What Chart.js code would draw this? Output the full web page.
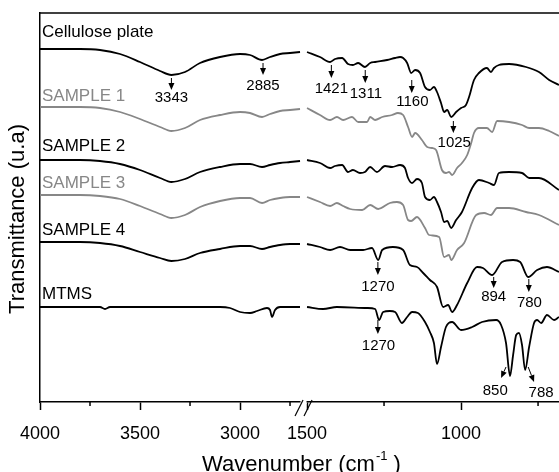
<!DOCTYPE html>
<html>
<head>
<meta charset="utf-8">
<script src="https://cdn.jsdelivr.net/npm/chart.js@4.4.1/dist/chart.umd.min.js"></script>
<style>
  html, body { margin: 0; padding: 0; background: #fff; }
  #wrap { width: 559px; height: 472px; }
</style>
</head>
<body>
<div id="wrap"><canvas id="ftir" width="559" height="472"></canvas></div>
<script>
// high wavenumber range (cm-1), shared by cellulose and samples
const wnHigh = [4000, 3900, 3800, 3700, 3600, 3500, 3400, 3343, 3275, 3200, 3100, 3000, 2950, 2890, 2850, 2800, 2750, 2700];
const celluloseHigh = [353, 353, 353, 352, 348, 340, 331, 327, 330, 339, 345, 348, 347, 342, 345, 348, 349, 350];
const sample1High = [295, 295, 295, 294, 290, 283, 275, 271, 274, 282, 287, 290, 289, 285, 288, 291, 292, 293];
const sample2High = [242, 242, 242, 241, 238, 232, 224, 220, 223, 230, 235, 238, 238, 235, 237, 239, 240, 241];
const sample3High = [207, 207, 207, 206, 203, 196, 188, 184, 187, 195, 201, 204, 204, 199, 202, 204, 205, 205];
const sample4High = [160, 160, 160, 159, 156, 150, 144, 141, 143, 149, 153, 156, 156, 153, 155, 157, 158, 158];
const mtmsWnHigh = [4000, 3700, 3675, 3650, 3100, 3050, 3000, 2950, 2915, 2865, 2850, 2840, 2825, 2800, 2700];
const mtmsHigh = [95, 95, 93, 95, 95, 94, 90, 89, 91, 94, 92, 85, 92, 95, 95];

// fingerprint range (cm-1)
const celluloseWnLow = [1500, 1458, 1425, 1409, 1386, 1367, 1351, 1334, 1312, 1295, 1279, 1240, 1214, 1198, 1188, 1175, 1162, 1149, 1133, 1117, 1101, 1088, 1078, 1065, 1055, 1045, 1032, 1016, 1000, 984, 974, 958, 942, 916, 903, 893, 877, 844, 789, 747, 714, 682];
const celluloseLow = [350, 345, 340, 343, 344, 338, 337, 339, 335, 339, 340, 342, 344, 345, 344, 339, 329, 332, 329, 315, 312, 315, 310, 299, 290, 292, 285, 290, 294, 297, 305, 322, 329, 334, 330, 334, 337, 338, 335, 330, 322, 317];
const sample1WnLow = [1500, 1458, 1425, 1403, 1383, 1354, 1334, 1305, 1295, 1279, 1256, 1224, 1205, 1188, 1172, 1159, 1149, 1127, 1110, 1094, 1081, 1062, 1049, 1039, 1029, 1013, 997, 980, 967, 958, 942, 916, 899, 883, 844, 802, 779, 747, 714, 682];
const sample1Low = [294, 287, 282, 285, 282, 285, 280, 280, 285, 282, 285, 287, 289, 287, 275, 265, 269, 262, 255, 254, 252, 232, 229, 230, 227, 234, 239, 247, 259, 269, 274, 274, 270, 281, 280, 277, 274, 274, 271, 266];
const sample2WnLow = [1500, 1458, 1425, 1409, 1386, 1367, 1351, 1328, 1312, 1295, 1273, 1247, 1224, 1198, 1182, 1172, 1159, 1143, 1127, 1117, 1101, 1088, 1078, 1065, 1055, 1045, 1032, 1016, 997, 964, 942, 909, 893, 877, 844, 802, 779, 747, 682];
const sample2Low = [242, 239, 234, 236, 237, 230, 232, 229, 230, 235, 230, 236, 235, 237, 234, 224, 219, 223, 219, 205, 202, 205, 200, 190, 180, 181, 174, 182, 190, 214, 222, 219, 217, 229, 230, 229, 224, 224, 212];
const sample3WnLow = [1500, 1458, 1425, 1403, 1383, 1360, 1321, 1295, 1269, 1231, 1208, 1188, 1172, 1162, 1143, 1117, 1104, 1071, 1055, 1039, 1032, 1013, 990, 951, 925, 903, 883, 844, 789, 747, 682];
const sample3Low = [205, 200, 196, 199, 196, 193, 192, 197, 193, 199, 200, 197, 182, 181, 185, 174, 167, 165, 145, 147, 142, 152, 159, 187, 189, 187, 194, 194, 190, 187, 177];
const sample4WnLow = [1500, 1458, 1425, 1393, 1360, 1318, 1289, 1269, 1256, 1221, 1188, 1166, 1143, 1123, 1101, 1078, 1058, 1042, 1029, 1013, 980, 948, 929, 899, 867, 831, 808, 782, 753, 721, 682];
const sample4Low = [158, 155, 152, 155, 152, 152, 154, 142, 152, 155, 152, 137, 135, 129, 122, 115, 95, 97, 90, 97, 119, 135, 134, 127, 140, 142, 140, 125, 132, 135, 130];
const mtmsWnLow = [1500, 1448, 1403, 1305, 1279, 1266, 1253, 1231, 1214, 1192, 1175, 1159, 1140, 1117, 1101, 1088, 1078, 1065, 1049, 1029, 1000, 964, 932, 886, 870, 854, 841, 831, 821, 812, 802, 792, 779, 763, 753, 740, 721, 698, 682];
const mtmsLow = [95, 93, 95, 94, 93, 82, 90, 91, 90, 79, 85, 90, 89, 80, 70, 59, 38, 55, 75, 80, 72, 75, 80, 82, 77, 59, 26, 47, 67, 69, 57, 32, 55, 79, 82, 79, 87, 82, 85];

const seriesNames = ['Cellulose plate', 'SAMPLE 1', 'SAMPLE 2', 'SAMPLE 3', 'SAMPLE 4', 'MTMS'];
const seriesColors = ['#000000', '#878787', '#000000', '#878787', '#000000', '#000000'];
const nameLevel = [370, 306, 256, 219, 172, 108];

const majorTicks = [4000, 3500, 3000, 1500, 1000];
const minorTicks = [3750, 3250, 2750, 1250, 750];

// peak marks: label, arrow start/end (wavenumber, level), label spot
const peakText  = ['3343', '2885', '1421', '1311', '1160', '1025', '1270', '894', '780', '1270', '850', '788'];
const peakWn    = [3343, 2885, 1421, 1311, 1160, 1025, 1270, 894, 780, 1270, 854, 782];
const peakTipWn = [3343, 2885, 1421, 1311, 1160, 1025, 1270, 894, 780, 1270, 870, 763];
const arrowFrom = [324, 339, 337, 332, 322, 281, 140, 125, 123, 82, 35, 35];
const arrowTo   = [312, 327, 324, 319, 309, 269, 127, 114, 110, 68, 24, 20];
const textWn    = [3343, 2885, 1421, 1309, 1158, 1022, 1270, 894, 778, 1268, 889, 740];
const textLevel = [304, 316, 313, 308, 300, 259, 115, 105, 99, 56, 11, 9];

const FONT = '"Liberation Sans", Arial, sans-serif';

// broken axis: 4000-2700 and 1500-682 laid side by side
function axisPos(w) {
  return w > 2000 ? (4000 - w) * 0.2 : 267 + (1500 - w) * 0.308;
}

function spectrum(hiWn, hiVal, loWn, loVal) {
  const pts = hiWn.map((w, i) => ({ x: axisPos(w), y: hiVal[i] }));
  pts.push({ x: 263, y: null });
  loWn.forEach((w, i) => pts.push({ x: axisPos(w), y: loVal[i] }));
  return pts;
}

const spectra = [
  spectrum(wnHigh, celluloseHigh, celluloseWnLow, celluloseLow),
  spectrum(wnHigh, sample1High, sample1WnLow, sample1Low),
  spectrum(wnHigh, sample2High, sample2WnLow, sample2Low),
  spectrum(wnHigh, sample3High, sample3WnLow, sample3Low),
  spectrum(wnHigh, sample4High, sample4WnLow, sample4Low),
  spectrum(mtmsWnHigh, mtmsHigh, mtmsWnLow, mtmsLow)
];

const datasets = spectra.map((pts, i) => ({
  label: seriesNames[i],
  data: pts,
  borderColor: seriesColors[i],
  borderWidth: 1.8,
  pointRadius: 0,
  spanGaps: false,
  cubicInterpolationMode: 'monotone'
}));

function arrow(ctx, x1, y1, x2, y2) {
  const ang = Math.atan2(y2 - y1, x2 - x1);
  const head = 7, half = 3;
  const bx = x2 - head * Math.cos(ang), by = y2 - head * Math.sin(ang);
  ctx.beginPath();
  ctx.moveTo(x1, y1);
  ctx.lineTo(bx, by);
  ctx.stroke();
  ctx.beginPath();
  ctx.moveTo(x2, y2);
  ctx.lineTo(bx + half * Math.sin(ang), by - half * Math.cos(ang));
  ctx.lineTo(bx - half * Math.sin(ang), by + half * Math.cos(ang));
  ctx.closePath();
  ctx.fill();
}

const decor = {
  id: 'decor',
  afterDraw(chart) {
    const { ctx, chartArea: a, scales: { x, y } } = chart;
    const px = w => x.getPixelForValue(axisPos(w));
    const py = v => y.getPixelForValue(v);
    ctx.save();

    // top frame
    ctx.strokeStyle = '#000';
    ctx.fillStyle = '#000';
    ctx.lineWidth = 1.5;
    ctx.beginPath();
    ctx.moveTo(a.left, a.top);
    ctx.lineTo(a.right, a.top);
    ctx.stroke();

    // minor ticks
    minorTicks.forEach(w => {
      const X = px(w);
      ctx.beginPath();
      ctx.moveTo(X, a.bottom);
      ctx.lineTo(X, a.bottom + 4);
      ctx.stroke();
    });

    // axis break
    const bx = (px(2700) + px(1500)) / 2;
    ctx.fillStyle = '#fff';
    ctx.fillRect(bx - 3, a.bottom - 2, 6, 4);
    ctx.lineWidth = 1.2;
    [-4.5, 4.5].forEach(d => {
      ctx.beginPath();
      ctx.moveTo(bx + d - 4, a.bottom + 14);
      ctx.lineTo(bx + d + 4, a.bottom - 2);
      ctx.stroke();
    });

    // peak arrows and numbers
    ctx.fillStyle = '#000';
    ctx.lineWidth = 1;
    ctx.font = '15px ' + FONT;
    ctx.textAlign = 'center';
    ctx.textBaseline = 'middle';
    peakText.forEach((t, i) => {
      arrow(ctx, px(peakWn[i]), py(arrowFrom[i]), px(peakTipWn[i]), py(arrowTo[i]));
      ctx.fillText(t, px(textWn[i]), py(textLevel[i]));
    });

    // series names
    ctx.font = '17px ' + FONT;
    ctx.textAlign = 'left';
    seriesNames.forEach((n, i) => {
      ctx.fillStyle = seriesColors[i];
      ctx.fillText(n, a.left + 2, py(nameLevel[i]));
    });

    // x title with superscript
    ctx.fillStyle = '#000';
    const main = 'Wavenumber (cm', sup = '-1', tail = ' )';
    ctx.font = '22px ' + FONT;
    const wMain = ctx.measureText(main).width;
    const wTail = ctx.measureText(tail).width;
    ctx.font = '13px ' + FONT;
    const wSup = ctx.measureText(sup).width;
    let tx = 301 - (wMain + wSup + wTail) / 2;
    const ty = 465;
    ctx.font = '22px ' + FONT;
    ctx.fillText(main, tx, ty);
    tx += wMain;
    ctx.font = '13px ' + FONT;
    ctx.fillText(sup, tx + 1, ty - 9);
    tx += wSup + 1;
    ctx.font = '22px ' + FONT;
    ctx.fillText(tail, tx, ty);

    // y title
    ctx.translate(18, 219);
    ctx.rotate(-Math.PI / 2);
    ctx.textAlign = 'center';
    ctx.fillText('Transmittance (u.a)', 0, 0);
    ctx.restore();
  }
};

new Chart(document.getElementById('ftir'), {
  type: 'line',
  data: { datasets },
  options: {
    responsive: false,
    animation: false,
    devicePixelRatio: 1,
    layout: { padding: { top: 13, right: 0, left: 0, bottom: 0 } },
    plugins: { legend: { display: false }, tooltip: { enabled: false } },
    scales: {
      x: {
        type: 'linear',
        min: 0,
        max: axisPos(682),
        afterFit: s => { s.height = 70; },
        afterBuildTicks: s => { s.ticks = majorTicks.map(w => ({ value: axisPos(w) })); },
        grid: { display: true, drawOnChartArea: false, drawTicks: true, tickLength: 8, tickColor: '#000', tickWidth: 1.5 },
        border: { display: true, color: '#000', width: 1.5 },
        ticks: {
          color: '#000',
          font: { family: FONT, size: 18 },
          padding: 13,
          maxRotation: 0,
          autoSkip: false,
          callback: (v, i) => majorTicks[i]
        }
      },
      y: {
        min: 0,
        max: 389,
        afterFit: s => { s.width = 40; },
        grid: { display: false },
        border: { display: true, color: '#000', width: 1.5 },
        ticks: { display: false }
      }
    }
  },
  plugins: [decor]
});
</script>
</body>
</html>
